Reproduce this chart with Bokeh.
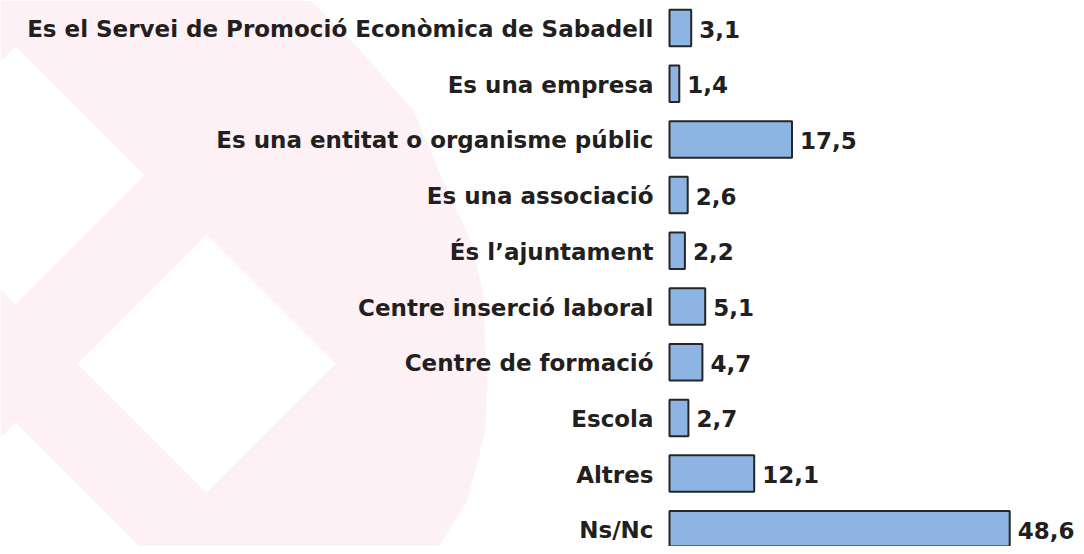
from bokeh.plotting import figure
from bokeh.models import Range1d, ColumnDataSource
from bokeh.core.properties import value
from bokeh.embed import file_html
from bokeh.resources import INLINE

# ---- data ----
categories = [
    "Es el Servei de Promoció Econòmica de Sabadell",
    "Es una empresa",
    "Es una entitat o organisme públic",
    "Es una associació",
    "És l’ajuntament",
    "Centre inserció laboral",
    "Centre de formació",
    "Escola",
    "Altres",
    "Ns/Nc",
]
values = [3.1, 1.4, 17.5, 2.6, 2.2, 5.1, 4.7, 2.7, 12.1, 48.6]
value_labels = [f"{v:.1f}".replace(".", ",") for v in values]

# decorative watermark (picture pixel coordinates)
wm_outline_x = [0, 310, 360, 413, 447, 470, 482, 487, 485, 467, 433, 0]
wm_outline_y = [0, 0, 50, 110, 190, 240, 290, 380, 430, 500, 554, 554]
wm_hole_cx = [15, 206, 15]
wm_hole_cy = [175, 363, 551]
wm_hole_r = 129

W, H = 1076, 546
PX_PER_UNIT = 7.0
BAR_LEFT = 669      # px from figure left
ROW = 55.7
FIRST = 27.5        # centre of first row, px from figure top

x0 = -BAR_LEFT / PX_PER_UNIT
x1 = (W - BAR_LEFT) / PX_PER_UNIT
y_top = -FIRST / ROW
y_bot = (H - FIRST) / ROW

p = figure(width=W, height=H, output_backend="svg", toolbar_location=None,
           x_range=Range1d(x0, x1), y_range=Range1d(y_bot, y_top),
           min_border=0, tools="")
p.extra_x_ranges = {"img": Range1d(0, W)}
p.extra_y_ranges = {"img": Range1d(H, 0)}
p.xaxis.visible = False
p.yaxis.visible = False
p.grid.visible = False
p.outline_line_color = None
p.background_fill_color = "white"
p.border_fill_color = "white"

PINK = "#fdf1f5"
p.patch(wm_outline_x, wm_outline_y, fill_color=PINK, line_color=None,
        x_range_name="img", y_range_name="img")
hx = [[cx - wm_hole_r, cx, cx + wm_hole_r, cx] for cx in wm_hole_cx]
hy = [[cy, cy - wm_hole_r, cy, cy + wm_hole_r] for cy in wm_hole_cy]
p.patches(hx, hy, fill_color="white", line_color=None,
          x_range_name="img", y_range_name="img")

idx = list(range(len(categories)))
src = ColumnDataSource(dict(y=idx, v=values, cat=categories, lab=value_labels,
                            zero=[0] * len(values)))

p.hbar(y="y", left=0, right="v", height=0.655, source=src,
       fill_color="#8db4e2", line_color="#262626", line_width=2)

TXT = "#231f20"
p.text(x="zero", y="y", text="cat", source=src, text_align="right",
       text_baseline="middle", x_offset=-16, y_offset=1,
       text_font=value("DejaVu Sans"), text_font_style="bold",
       text_font_size="23px", text_color=TXT)
p.text(x="v", y="y", text="lab", source=src, text_align="left",
       text_baseline="middle", x_offset=8, y_offset=1,
       text_font=value("DejaVu Sans"), text_font_style="bold",
       text_font_size="23px", text_color=TXT)

open("out.html", "w").write(file_html(p, INLINE))
